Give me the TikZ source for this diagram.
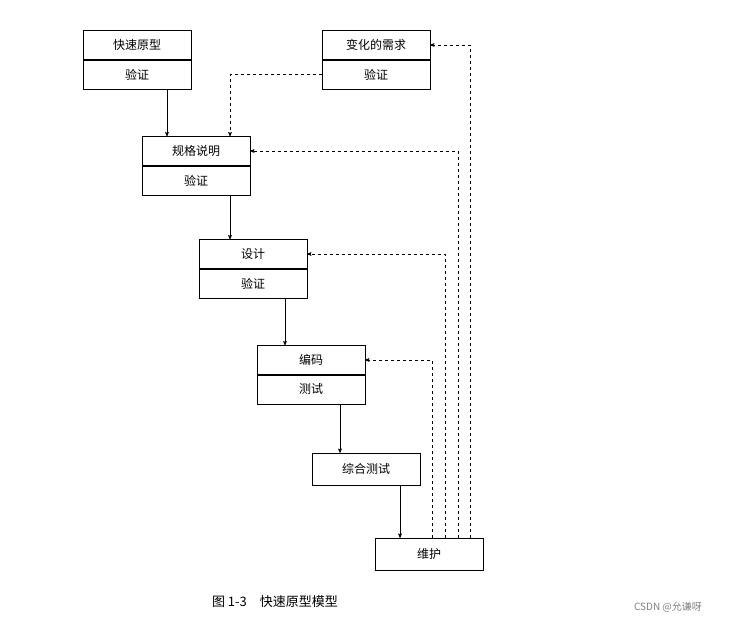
\documentclass[tikz,border=0pt]{standalone}
\usepackage{fontspec}
\setmainfont{Noto Sans CJK SC}
\usetikzlibrary{positioning,calc,arrows}
\tikzstyle{half} = [draw, rectangle, minimum height=29pt, minimum width=108pt, inner sep=0pt, font=\fontsize{12}{14}\selectfont]
\tikzstyle{to} = [->,>=stealth',semithick]
\tikzstyle{back} = [->,>=stealth',semithick,dashed]
\begin{document}
\begin{tikzpicture}[x=1pt,y=-1pt]
	\useasboundingbox (0,0) rectangle (732,624);
	\node (ky) [half] at (137,45) {快速原型};
	\node (kv) [half,below=0pt of ky] {验证};
	\node (bx) [half] at (376,45) {变化的需求};
	\node (bv) [half,below=0pt of bx] {验证};
	\node (gg) [half] at (196,151) {规格说明};
	\node (gv) [half,below=0pt of gg] {验证};
	\node (sj) [half] at (253,254) {设计};
	\node (sv) [half,below=0pt of sj] {验证};
	\node (bm) [half] at (311,360) {编码};
	\node (cs) [half,below=0pt of bm] {测试};
	\node (zh) [half,minimum height=32pt] at (366,469) {综合测试};
	\node (wh) [half,minimum height=32pt] at (429,554) {维护};
	\node (cap) at (275,602) {\fontsize{13}{15}\selectfont 图 1-3\quad 快速原型模型};
	\node (wm) [text=gray] at (668,607) {\fontsize{10}{12}\selectfont CSDN @允谦呀};
	\draw [to] ([xshift=30pt]kv.south) -- ([xshift=-29pt]gg.north);
	\draw [to] ([xshift=34pt]gv.south) -- ([xshift=-23pt]sj.north);
	\draw [to] ([xshift=32pt]sv.south) -- ([xshift=-26pt]bm.north);
	\draw [to] ([xshift=29pt]cs.south) -- ([xshift=-26pt]zh.north);
	\draw [to] ([xshift=34pt]zh.south) -- ([xshift=-29pt]wh.north);
	\draw [back] (bv.west) -| ([xshift=34pt]gg.north);
	\draw [back] ([xshift=41pt]wh.north) |- (bx.east);
	\draw [back] ([xshift=29pt]wh.north) |- (gg.east);
	\draw [back] ([xshift=16pt]wh.north) |- (sj.east);
	\draw [back] ([xshift=3pt]wh.north) |- (bm.east);
\end{tikzpicture}
\end{document}
